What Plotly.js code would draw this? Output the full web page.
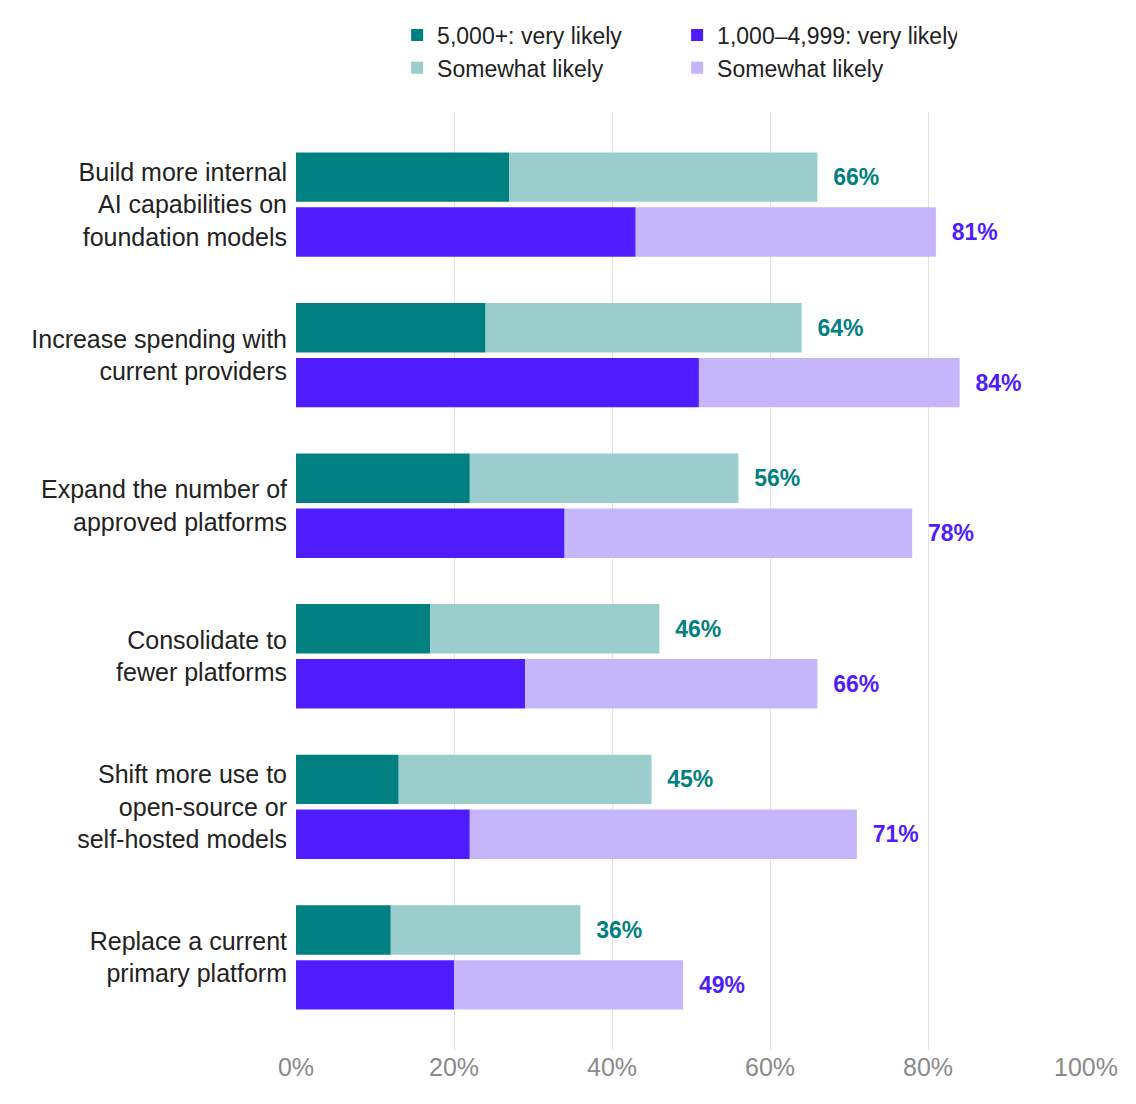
<!DOCTYPE html>
<html>
<head>
<meta charset="utf-8">
<script src="https://cdn.plot.ly/plotly-3.0.1.min.js"></script>
<style>body{margin:0;background:#fff}</style>
</head>
<body>
<div id="chart" style="width:1136px;height:1104px"></div>
<script>
const categories = [
  "Build more internal<br>AI capabilities on<br>foundation models",
  "Increase spending with<br>current providers",
  "Expand the number of<br>approved platforms",
  "Consolidate to<br>fewer platforms",
  "Shift more use to<br>open-source or<br>self-hosted models",
  "Replace a current<br>primary platform"
]
const bigVery = [27, 24, 22, 17, 13, 12]
const bigTotal = [66, 64, 56, 46, 45, 36]
const midVery = [43, 51, 34, 29, 22, 20]
const midTotal = [81, 84, 78, 66, 71, 49]

const teal = "#008080", tealLight = "#9ccdcd"
const purple = "#4f1cff", purpleLight = "#c5b5fa"

const bigSome = bigTotal.map((t, i) => t - bigVery[i])
const midSome = midTotal.map((t, i) => t - midVery[i])

const common = { type: "bar", orientation: "h", y: categories, hoverinfo: "skip" }
const data = [
  { ...common, name: "5,000+: very likely", x: bigVery, offsetgroup: "big", marker: { color: teal } },
  { ...common, name: "1,000–4,999: very likely", x: midVery, offsetgroup: "mid", marker: { color: purple } },
  { ...common, name: "Somewhat likely", x: bigSome, base: bigVery, offsetgroup: "big", marker: { color: tealLight },
    text: bigTotal.map(v => "  <b>" + v + "%</b>"), textposition: "outside", cliponaxis: false,
    textfont: { color: teal, size: 23, family: "Liberation Sans" } },
  { ...common, name: "Somewhat likely ", x: midSome, base: midVery, offsetgroup: "mid", marker: { color: purpleLight },
    text: midTotal.map(v => "  <b>" + v + "%</b>"), textposition: "outside", cliponaxis: false,
    textfont: { color: purple, size: 23, family: "Liberation Sans" } }
]

const layout = {
  width: 1136, height: 1104,
  margin: { l: 296, r: 50, t: 112, b: 54, autoexpand: false },
  barmode: "group", bargap: 0.27, bargroupgap: 0.1,
  font: { family: "Liberation Sans, Arial, sans-serif", color: "#222" },
  paper_bgcolor: "#fff", plot_bgcolor: "#fff",
  xaxis: { range: [0, 100], dtick: 20, ticksuffix: "%", showgrid: true, gridcolor: "#e2e2e2",
    zeroline: false, showline: false, tickfont: { size: 25, color: "#8a8a8a" }, ticklen: 0 },
  yaxis: { range: [5.615, -0.615], tickfont: { size: 25, color: "#222" }, ticklen: 0, ticks: "",
    showgrid: false, ticklabelstandoff: 8 },
  showlegend: true,
  legend: { orientation: "h", x: 0.128, xanchor: "left", y: 1.105, yanchor: "top",
    entrywidth: 235, entrywidthmode: "pixels", traceorder: "normal",
    font: { size: 23, color: "#222" }, itemwidth: 30 }
}

Plotly.newPlot("chart", data, layout, { displayModeBar: false, staticPlot: true })
</script>
</body>
</html>
